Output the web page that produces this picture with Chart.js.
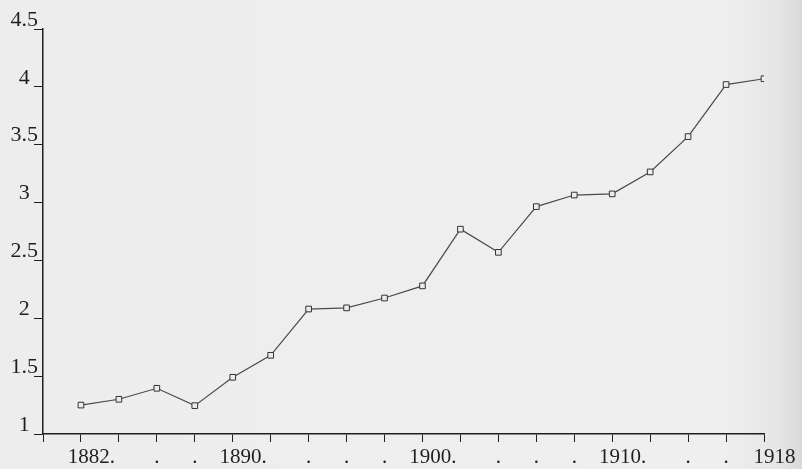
<!DOCTYPE html>
<html>
<head>
<meta charset="utf-8">
<script src="https://cdn.jsdelivr.net/npm/chart.js@4.4.1/dist/chart.umd.min.js"></script>
<style>
  html, body { margin: 0; padding: 0; }
  body { width: 802px; height: 469px; overflow: hidden;
         background: linear-gradient(to right, #ededed 0%, #efefef 90%, #e6e6e6 97%, #d9d9d9 100%); }
  #c { display: block; }
</style>
</head>
<body>
<canvas id="c" width="802" height="469"></canvas>
<script>
// ---- data ----
const years = [1882, 1884, 1886, 1888, 1890, 1892, 1894, 1896, 1898, 1900,
               1902, 1904, 1906, 1908, 1910, 1912, 1914, 1916, 1918];
const values = [1.25, 1.30, 1.395, 1.245, 1.49, 1.68, 2.08, 2.09, 2.175, 2.28,
                2.77, 2.57, 2.965, 3.065, 3.075, 3.265, 3.57, 4.02, 4.07];
const xTickYears = [1880, 1882, 1884, 1886, 1888, 1890, 1892, 1894, 1896, 1898, 1900,
                    1902, 1904, 1906, 1908, 1910, 1912, 1914, 1916, 1918];
const xTickLabels = ['', '1882.', '', '.', '.', '1890.', '', '.', '.', '.', '1900.',
                     '', '.', '.', '.', '1910.', '', '.', '.', '1918'];
const yTickValues = [1, 1.5, 2, 2.5, 3, 3.5, 4, 4.5];
const yTickLabels = ['1', '1.5', '2', '2.5', '3', '3.5', '4', '4.5'];

const ink = '#1f1f1f';
const serif = "'Liberation Serif', 'DejaVu Serif', serif";

new Chart(document.getElementById('c'), {
  type: 'line',
  data: {
    datasets: [{
      data: years.map((yr, i) => ({ x: yr, y: values[i] })),
      borderColor: '#4a4a4a',
      borderWidth: 1.2,
      tension: 0,
      pointStyle: 'rect',
      pointRadius: 4,
      pointHoverRadius: 4,
      pointBackgroundColor: '#ececec',
      pointBorderColor: '#333333',
      pointBorderWidth: 1
    }]
  },
  options: {
    responsive: false,
    devicePixelRatio: 1,
    animation: false,
    events: [],
    layout: { padding: { left: 0, top: 29, right: 38, bottom: 0 } },
    plugins: { legend: { display: false }, tooltip: { enabled: false } },
    scales: {
      x: {
        type: 'linear',
        min: 1880,
        max: 1918,
        afterBuildTicks: (scale) => { scale.ticks = xTickYears.map(v => ({ value: v })); },
        afterFit: (scale) => { scale.height = 35; },
        grid: { drawOnChartArea: false, drawTicks: true, tickLength: 8, color: ink, lineWidth: 1 },
        border: { display: true, color: ink, width: 1.5 },
        ticks: {
          autoSkip: false,
          maxRotation: 0,
          minRotation: 0,
          padding: 3,
          color: ink,
          font: { family: serif, size: 21 },
          callback: (value) => {
            const i = xTickYears.indexOf(value);
            const lab = i >= 0 ? xTickLabels[i] : '';
            return lab.length > 1 ? '    ' + lab : lab;
          }
        }
      },
      y: {
        type: 'linear',
        min: 1,
        max: 4.5,
        afterBuildTicks: (scale) => { scale.ticks = yTickValues.map(v => ({ value: v })); },
        afterFit: (scale) => { scale.width = 43; },
        grid: { drawOnChartArea: false, drawTicks: true, tickLength: 9, color: ink, lineWidth: 1 },
        border: { display: true, color: ink, width: 1.5 },
        ticks: {
          crossAlign: 'center',
          padding: -4,
          labelOffset: -9,
          color: ink,
          font: { family: serif, size: 22 },
          callback: (value) => {
            const i = yTickValues.indexOf(value);
            return i >= 0 ? yTickLabels[i] : '';
          }
        }
      }
    }
  }
});
</script>
</body>
</html>
